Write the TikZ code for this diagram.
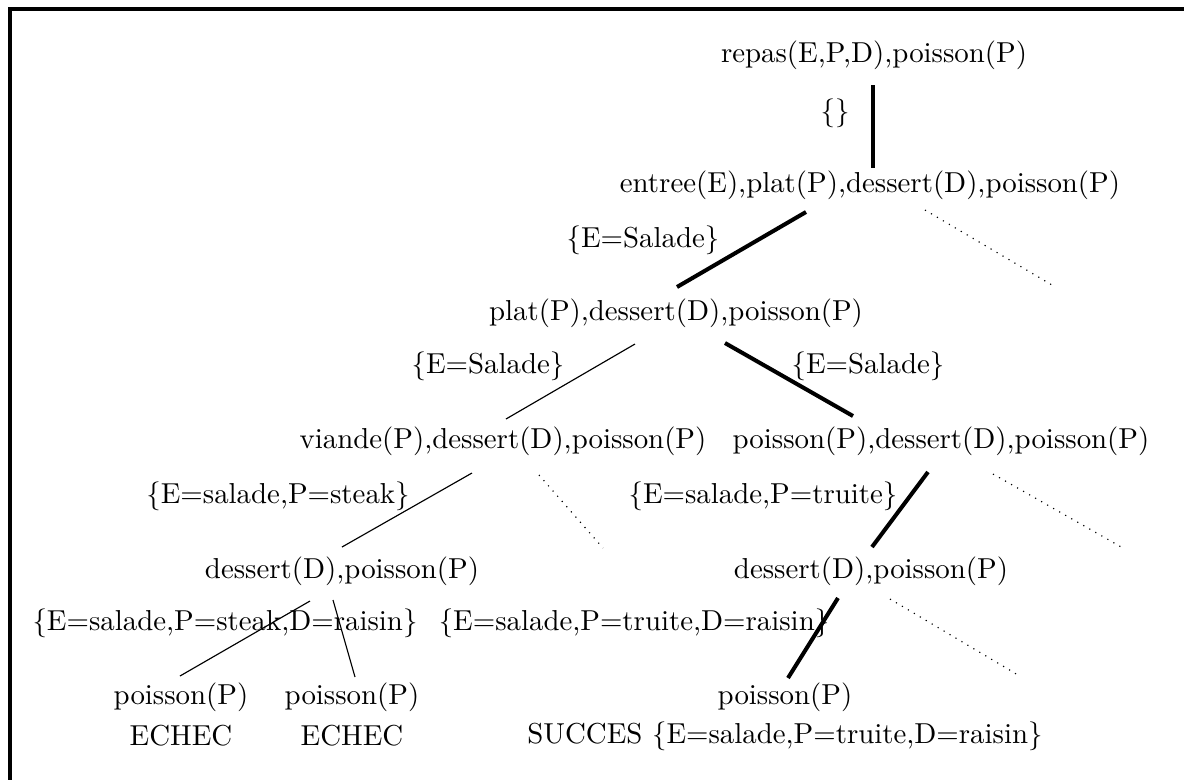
\documentclass[tikz,border=0pt]{standalone}
\begin{document}
\begin{tikzpicture}[x=0.3466pt,y=-0.3466pt,
  lbl/.style={inner sep=0pt,anchor=center},
  thickedge/.style={line width=1.4pt},
  thinedge/.style={line width=0.4pt},
  dotedge/.style={line width=0.4pt,dotted},
  frameline/.style={line width=1.1pt}]
\useasboundingbox (0,0) rectangle (1184,779);
% frame
\coordinate (fb) at (10,781);
\coordinate (fc) at (10,9);
\coordinate (fr) at (1186,9);
\draw[frameline] (fb) -- (fc) -- (fr);
% nodes
\node[lbl] (n0) at (874,55) {repas(E,P,D),poisson(P)};
\node[lbl] (s0) at (835,113) {\{\}};
\node[lbl] (n1) at (870,185) {entree(E),plat(P),dessert(D),poisson(P)};
\node[lbl] (s1) at (643,240) {\{E=Salade\}};
\node[lbl] (n2) at (676,313) {plat(P),dessert(D),poisson(P)};
\node[lbl] (s2a) at (488,366) {\{E=Salade\}};
\node[lbl] (s2b) at (868,366) {\{E=Salade\}};
\node[lbl] (n3a) at (503,441) {viande(P),dessert(D),poisson(P)};
\node[lbl] (n3b) at (941,441) {poisson(P),dessert(D),poisson(P)};
\node[lbl] (s3a) at (278,496) {\{E=salade,P=steak\}};
\node[lbl] (s3b) at (763,496) {\{E=salade,P=truite\}};
\node[lbl] (n4a) at (342,571) {dessert(D),poisson(P)};
\node[lbl] (n4b) at (871,571) {dessert(D),poisson(P)};
\node[lbl] (s4a) at (225,623) {\{E=salade,P=steak,D=raisin\}};
\node[lbl] (s4b) at (634,623) {\{E=salade,P=truite,D=raisin\}};
\node[lbl] (n5a) at (181,697) {poisson(P)};
\node[lbl] (n5b) at (352,697) {poisson(P)};
\node[lbl] (n5c) at (785,697) {poisson(P)};
\node[lbl] (r5a) at (181,736) {ECHEC};
\node[lbl] (r5b) at (352,736) {ECHEC};
\node[lbl] (r5c) at (785,736) {SUCCES \{E=salade,P=truite,D=raisin\}};
% edge endpoints
\coordinate (a0) at (873,85);   \coordinate (a1) at (873,168);
\coordinate (b0) at (806,212);  \coordinate (b1) at (677,287);
\coordinate (c0) at (925,210);  \coordinate (c1) at (1052,285);
\coordinate (d0) at (635,344);  \coordinate (d1) at (506,419);
\coordinate (e0) at (725,343);  \coordinate (e1) at (853,416);
\coordinate (f0) at (472,473);  \coordinate (f1) at (342,547);
\coordinate (g0) at (539,475);  \coordinate (g1) at (603,548);
\coordinate (h0) at (928,472);  \coordinate (h1) at (872,547);
\coordinate (i0) at (993,474);  \coordinate (i1) at (1123,548);
\coordinate (j0) at (310,601);  \coordinate (j1) at (180,676);
\coordinate (k0) at (333,600);  \coordinate (k1) at (355,677);
\coordinate (l0) at (838,598);  \coordinate (l1) at (788,678);
\coordinate (m0) at (890,599);  \coordinate (m1) at (1018,675);
% edges
\draw[thickedge] (a0) -- (a1);
\draw[thickedge] (b0) -- (b1);
\draw[dotedge] (c0) -- (c1);
\draw[thinedge] (d0) -- (d1);
\draw[thickedge] (e0) -- (e1);
\draw[thinedge] (f0) -- (f1);
\draw[dotedge] (g0) -- (g1);
\draw[thickedge] (h0) -- (h1);
\draw[dotedge] (i0) -- (i1);
\draw[thinedge] (j0) -- (j1);
\draw[thinedge] (k0) -- (k1);
\draw[thickedge] (l0) -- (l1);
\draw[dotedge] (m0) -- (m1);
\end{tikzpicture}
\end{document}
